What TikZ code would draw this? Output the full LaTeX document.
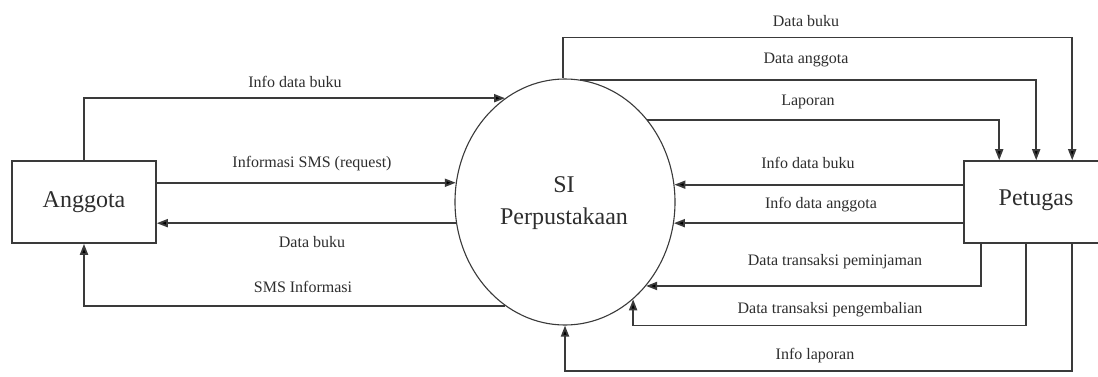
\documentclass[tikz,border=0pt]{standalone}
\usepackage{fontspec}
\setmainfont{Liberation Serif}
\usetikzlibrary{arrows.meta,shapes.geometric,calc}
\definecolor{ln}{HTML}{3A3A3A}
\definecolor{tx}{HTML}{2E2E2E}
\begin{document}
\begin{tikzpicture}[x=1pt,y=-1pt,
  flow/.style={draw=ln, line width=1.8pt, -{Triangle[length=11pt,width=8pt,fill=black]}},
  lbl/.style={font=\fontsize{16}{18}\selectfont, text=tx, inner sep=0pt},
  ent/.style={draw=ln, line width=1.6pt, inner sep=0pt},
  big/.style={font=\fontsize{24}{32}\selectfont, text=tx, inner sep=0pt, align=center},
]
\useasboundingbox[fill=white] (0,0) rectangle (1098,376);
% entities and process
\node[ent, minimum width=144pt, minimum height=82pt] (ang) at (84,202) {};
\node[big] (angt) at (84,202) {Anggota};
\node[ent, minimum width=135pt, minimum height=82pt] (pet) at (1031.5,202) {};
\node[big] (pett) at (1036,200) {Petugas};
\node[draw=ln, line width=1.1pt, ellipse, minimum width=220pt, minimum height=246pt, inner sep=0pt] (si) at (565,202) {};
\node[big] (sit) at (564,203) {SI\\Perpustakaan};
% points on Petugas border
\coordinate (p1) at ($(pet.north west)+(36,0)$);
\coordinate (p2) at ($(pet.north west)+(73,0)$);
\coordinate (p3) at ($(pet.north west)+(109,0)$);
\coordinate (q1) at ($(pet.south west)+(18,0)$);
\coordinate (q2) at ($(pet.south west)+(63,0)$);
\coordinate (q3) at ($(pet.south west)+(109,0)$);
% Anggota flows
\draw[flow] (ang.north) |- (si.120);
\draw[flow] (ang.east |- si.170) -- (si.170);
\draw[flow] (si.191) -- (ang.east |- si.191);
\draw[flow] (si.240) -| (ang.south);
% Petugas flows
\draw[flow] (si.91) -- ++(0,-41) -| (p3);
\draw[flow] (si.83) -| (p2);
\draw[flow] (si.45) -| (p1);
\draw[flow] (si.9 -| pet.west) -- (si.9);
\draw[flow] (si.349 -| pet.west) -- (si.349);
\draw[flow] (q1) |- (si.314);
\draw[flow] (q2) |- (si.305 |- si.south) -- (si.305);
\draw[flow] (q3) -- ++(0,127) -| (si.south);
% labels
\node[lbl] (l1) at (295,82) {Info data buku};
\node[lbl] (l2) at (312,164) {Informasi SMS (request)};
\node[lbl] (l3) at (312,242) {Data buku};
\node[lbl] (l4) at (303,287) {SMS Informasi};
\node[lbl] (l5) at (806,21) {Data buku};
\node[lbl] (l6) at (806,60) {Data anggota};
\node[lbl] (l7) at (808,102) {Laporan};
\node[lbl] (l8) at (808,163) {Info data buku};
\node[lbl] (l9) at (821,205) {Info data anggota};
\node[lbl] (l10) at (835,262) {Data transaksi peminjaman};
\node[lbl] (l11) at (830,310) {Data transaksi pengembalian};
\node[lbl] (l12) at (815,356) {Info laporan};
\end{tikzpicture}
\end{document}
